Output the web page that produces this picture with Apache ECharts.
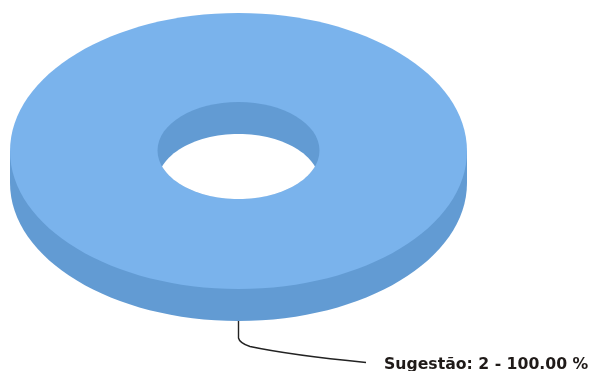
<!DOCTYPE html>
<html><head><meta charset="utf-8">
<style>html,body{margin:0;padding:0;background:#fff;overflow:hidden}#c{width:591px;height:371px}</style>
<script src="https://cdn.jsdelivr.net/npm/echarts@6/dist/echarts.min.js"></script>
</head><body><div id="c"></div>
<script>
const categories = ['Sugestão'];
const values = [2];
const total = values.reduce((a, b) => a + b, 0);

const TOP = '#7ab3ec', SIDE = '#629bd3';
const CX = 238.5, CY = 151, RX = 228.5, RY = 138, DEPTH = 32;
const HCY = 150.5, HRX = 81, HRY = 48.5;

function lens() {
  const pts = [];
  const half = Math.acos((DEPTH / 2) / HRY);
  const n = 48;
  for (let i = 0; i <= n; i++) {          // lower wall edge of the opening
    const a = -half + 2 * half * i / n;
    pts.push([CX + HRX * Math.sin(a), HCY + HRY * Math.cos(a)]);
  }
  for (let i = 0; i <= n; i++) {          // shifted upper rim
    const a = half - 2 * half * i / n;
    pts.push([CX + HRX * Math.sin(a), HCY + DEPTH - HRY * Math.cos(a)]);
  }
  return pts;
}

function renderItem(params, api) {
  const name = categories[params.dataIndex];
  const v = api.value(0);
  const pct = v / total * 100;
  const e = (cx, cy, rx, ry, fill) => ({ type: 'ellipse', shape: { cx, cy, rx, ry }, style: { fill } });
  return {
    type: 'group',
    children: [
      { type: 'path', shape: { pathData: 'M238.5 321 L238.5 338 Q239.5 343 250 346.5 Q290 355 366 362.5', x: 238.5, y: 321, width: 127.5, height: 41.5, layout: 'cover' },
        style: { fill: 'none', stroke: '#222', lineWidth: 1.4 } },
      e(CX, CY + DEPTH, RX, RY, SIDE),
      { type: 'rect', shape: { x: CX - RX, y: CY, width: 2 * RX, height: DEPTH }, style: { fill: SIDE } },
      e(CX, CY, RX, RY, TOP),
      e(CX, HCY, HRX, HRY, SIDE),
      { type: 'polygon', shape: { points: lens() }, style: { fill: '#fff' } },
      { type: 'text', style: { x: 384, y: 365, text: name + ': ' + v + ' - ' + pct.toFixed(2) + ' %',
          fill: '#1f1a18', font: 'bold 15.7px "DejaVu Sans"', textAlign: 'left', textVerticalAlign: 'middle' } }
    ]
  };
}

const chart = echarts.init(document.getElementById('c'), null, { renderer: 'canvas' });
chart.setOption({
  animation: false,
  backgroundColor: '#fff',
  series: [{ type: 'custom', coordinateSystem: 'none', silent: true, renderItem, data: values.map(v => [v]) }]
});
</script></body></html>
